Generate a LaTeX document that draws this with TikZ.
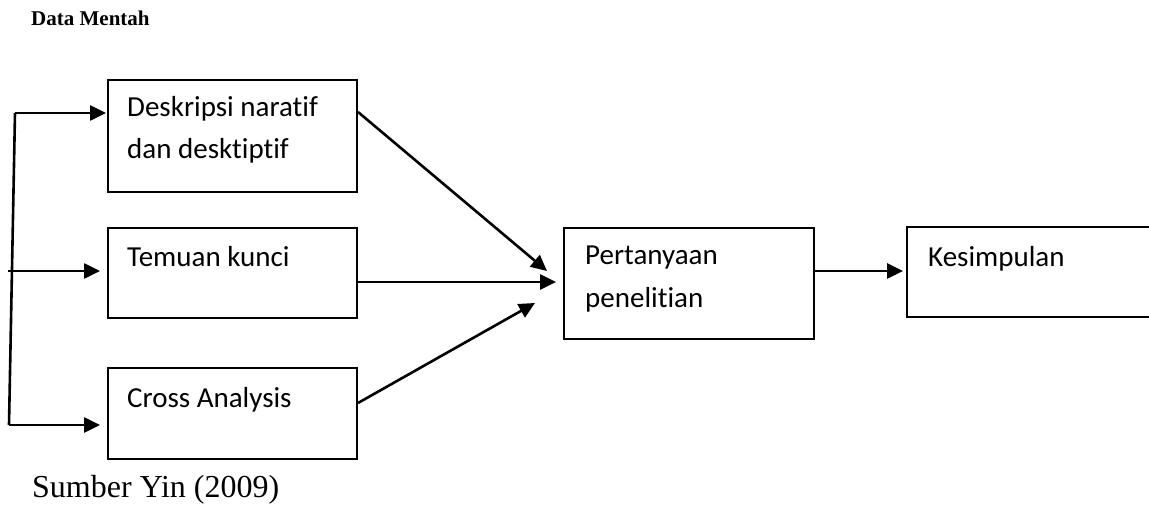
\documentclass[tikz,border=0pt]{standalone}
\usepackage{fontspec}
\setmainfont{Liberation Serif}
\newfontfamily\calfont[Ligatures={NoCommon}]{Carlito}
\usetikzlibrary{arrows.meta}
\begin{document}
\begin{tikzpicture}[x=1pt,y=-1pt,
  box/.style={draw,line width=2pt,inner sep=0pt,anchor=north west},
  txt/.style={anchor=base west,inner sep=0pt,align=left,font=\calfont\fontsize{29}{42.5}\selectfont},
  arr/.style={line width=2.6pt,-{Triangle[length=16pt,width=15pt]}},
  ln/.style={line width=2.6pt}]
\useasboundingbox (0,0) rectangle (1149,505);
\clip (0,0) rectangle (1149,505);

\node[anchor=base west,inner sep=0pt,font=\bfseries\fontsize{21}{24}\selectfont] (title) at (31,26) {Data Mentah};
\node[anchor=base west,inner sep=0pt,font=\fontsize{32}{36}\selectfont] (src) at (32,497) {Sumber Yin (2009)};

\node[box,minimum width=249pt,minimum height=112pt] (b1) at (107,79) {};
\node[box,minimum width=249pt,minimum height=90pt] (b2) at (107,227) {};
\node[box,minimum width=249pt,minimum height=91pt] (b3) at (107,367) {};
\node[box,minimum width=250pt,minimum height=111pt] (b4) at (563,227) {};
\node[inner sep=0pt,minimum width=300pt,minimum height=90pt,anchor=north west] (b5) at (907,227) {};
\draw[line width=2pt] (b5.north east) -- (b5.north west) -- (b5.south west) -- (b5.south east);

\node[txt] (t1) at (127,159) {Deskripsi naratif\\dan desktiptif};
\node[txt] (t2) at (127,266) {Temuan kunci};
\node[txt] (t3) at (127,407) {Cross Analysis};
\node[txt] (t4) at (585,307) {Pertanyaan\\penelitian};
\node[txt] (t5) at (928,266) {Kesimpulan};

% left feeder
\coordinate (vtop) at (15,113);
\coordinate (vbot) at (9,425);
\coordinate (vmid) at (8,271);
\draw[ln] (vbot) -- (vtop);
\draw[arr,shorten >=1pt] (vtop) -- (b1.west |- vtop);
\draw[arr,shorten >=7pt] (vmid) -- (b2.west |- vmid);
\draw[arr,shorten >=7pt] (vbot) -- (b3.west |- vbot);

% to Pertanyaan
\coordinate (e1) at (547,271);
\coordinate (e2) at (556,282);
\coordinate (e3) at (535,303);
\draw[arr] ([yshift=-33pt]b1.north east) -- (e1);
\draw[arr] ([yshift=-55pt]b2.north east) -- (e2);
\draw[arr] ([yshift=-36pt]b3.north east) -- (e3);

% to Kesimpulan
\draw[arr,shorten >=4pt] ([yshift=-44pt]b4.north east) -- (b5.west |- 0,271);
\end{tikzpicture}
\end{document}
